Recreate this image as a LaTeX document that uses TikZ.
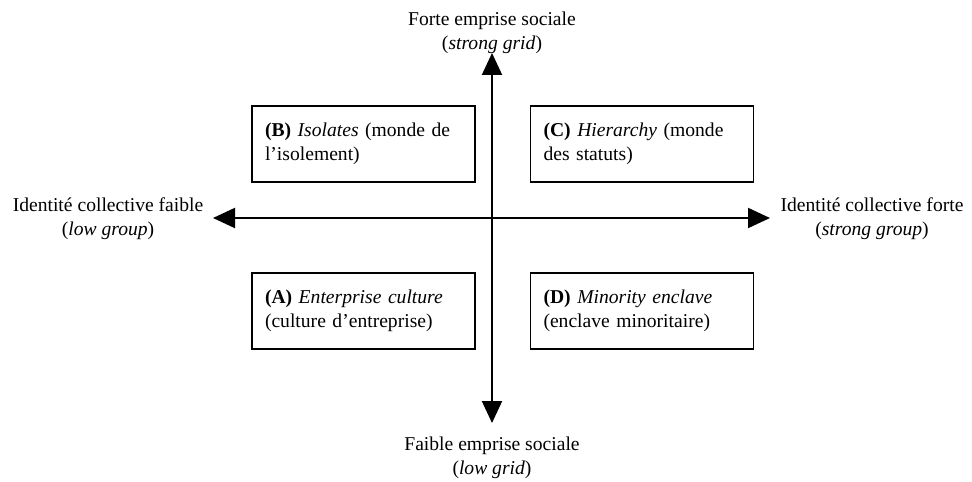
\documentclass[tikz,border=0pt]{standalone}
\usepackage{fontspec}
\setmainfont{Liberation Serif}
\usetikzlibrary{arrows.meta}
\tikzset{
  axis/.style={line width=1pt,{Triangle[length=11pt,width=10pt]}-{Triangle[length=11pt,width=10pt]}},
  quadbox/.style={draw,line width=.8pt,minimum width=111.5pt,minimum height=38pt,
    text width=98.5pt,inner xsep=6.5pt,align=left},
  axlabel/.style={align=center}
}
\begin{document}
\begin{tikzpicture}[x=.5pt,y=-.5pt,every node/.append style={font=\fontsize{9.8}{12}\selectfont}]
  \useasboundingbox(0,0)rectangle(972,481);
  \coordinate(N)at(492,53);
  \coordinate(S)at(492,423);
  \coordinate(W)at(213,218);
  \coordinate(E)at(770,218);
  % axes
  \draw[axis](S)--(N);
  \draw[axis](W)--(E);
  % axis labels
  \node[axlabel](north)at(492,33){Forte emprise sociale\\(\textit{strong grid})};
  \node[axlabel](south)at(492,458){Faible emprise sociale\\(\textit{low grid})};
  \node[axlabel](west)at(108,219){Identité collective faible\\(\textit{low group})};
  \node[axlabel](east)at(872,219){Identité collective forte\\(\textit{strong group})};
  % the four quadrants
  \node[quadbox](isolates)at(363.5,144){\textbf{(B)} \textit{Isolates} (monde de\\l’isolement)};
  \node[quadbox](hierarchy)at(642,144){\textbf{(C)} \textit{Hierarchy} (monde\\des statuts)};
  \node[quadbox](enterprise)at(363.5,311){\textbf{(A)} \textit{Enterprise culture}\\(culture d’entreprise)};
  \node[quadbox](enclave)at(642,311){\textbf{(D)} \textit{Minority enclave}\\(enclave minoritaire)};
\end{tikzpicture}
\end{document}
